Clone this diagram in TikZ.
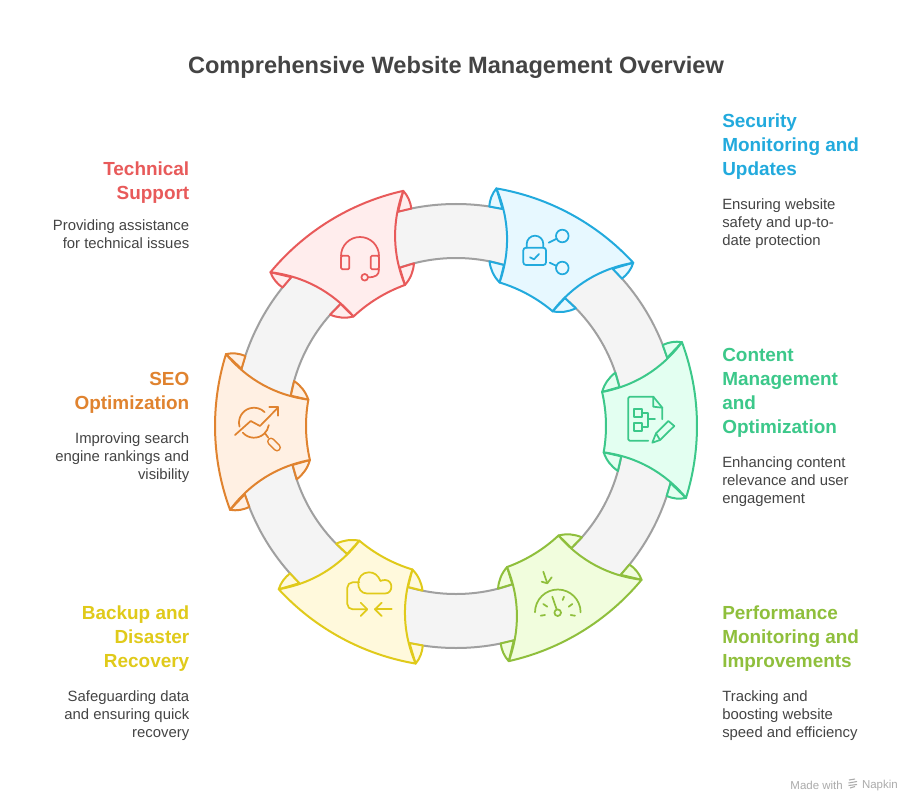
\documentclass[tikz,border=0pt]{standalone}
\usepackage{fontspec}
\setmainfont{Liberation Sans}
\definecolor{cRed}{HTML}{E85A5A}\definecolor{fRed}{HTML}{FFEDED}
\definecolor{cBlue}{HTML}{22AADD}\definecolor{fBlue}{HTML}{E7F8FF}
\definecolor{cGreen}{HTML}{3CC88A}\definecolor{fGreen}{HTML}{E3FFF1}
\definecolor{cOlive}{HTML}{8FBF3C}\definecolor{fOlive}{HTML}{F1FDDD}
\definecolor{cYellow}{HTML}{E0CA1A}\definecolor{fYellow}{HTML}{FFF9DC}
\definecolor{cOrange}{HTML}{E0832F}\definecolor{fOrange}{HTML}{FFF0E3}
\definecolor{ink}{HTML}{444444}
\tikzset{
  ringband/.style={draw=ringgray,fill=ringfill,line width=1.5pt,even odd rule},
  title/.style={text=ink,inner sep=0pt,font=\bfseries\fontsize{17.7}{22}\selectfont},
  headL/.style={inner sep=0pt,anchor=north west,align=left,font=\bfseries\fontsize{14.2}{18}\selectfont},
  headR/.style={inner sep=0pt,anchor=north east,align=right,font=\bfseries\fontsize{14.2}{18}\selectfont},
  bodyL/.style={text=ink,inner sep=0pt,anchor=north west,align=left,font=\fontsize{11.15}{13.5}\selectfont},
  bodyR/.style={text=ink,inner sep=0pt,anchor=north east,align=right,font=\fontsize{11.15}{13.5}\selectfont},
  icon/.style={line width=1.3pt,line cap=round,line join=round},
  seg/.style={line width=1.5pt,line join=round},
  credit/.style={text=creditgray,inner sep=0pt,font=\fontsize{8.6}{10}\selectfont},
}
\definecolor{ringgray}{HTML}{A0A0A0}\definecolor{ringfill}{HTML}{F4F4F4}\definecolor{creditgray}{HTML}{ABABAB}
\newcommand{\ringseg}[3]{%
  \begin{scope}[shift={(456,426)},y=0.75pt,rotate=#1]
    \path[seg,draw=#2,fill=#3] (18.85:241) .. controls (221.4,79.3) and (214.9,78.2) .. (19.9:222) -- (16.4:222) -- cycle;
    \path[seg,draw=#2,fill=#3] (-18.85:241) .. controls (221.4,-79.3) and (214.9,-78.2) .. (-19.9:222) -- (-16.4:222) -- cycle;
    \path[seg,draw=#2,fill=#3] (11.6:150) .. controls (149.4,38.1) and (154,44.4) .. (17:168) -- (11.9:168) -- cycle;
    \path[seg,draw=#2,fill=#3] (-11.6:150) .. controls (149.4,-38.1) and (154,-44.4) .. (-17:168) -- (-11.9:168) -- cycle;
    \path[seg,draw=#2,fill=#3] (18.85:241) arc[start angle=18.85,end angle=-18.85,radius=241]
      .. controls (207.1,-51.6) and (180,-35.7) .. (-11.6:150) arc[start angle=-11.6,end angle=11.6,radius=150]
      .. controls (180,35.7) and (207.1,51.6) .. cycle;
  \end{scope}}
\begin{document}
\begin{tikzpicture}[x=0.75pt,y=-0.75pt]
\useasboundingbox (0,0) rectangle (912,802);
\fill[white] (0,0) rectangle (912,802);
\path[ringband] (456,426) circle (222) (456,426) circle (168);
\ringseg{121.5}{cRed}{fRed}
\ringseg{61.5}{cBlue}{fBlue}
\ringseg{1.5}{cGreen}{fGreen}
\ringseg{-58.5}{cOlive}{fOlive}
\ringseg{-118.5}{cYellow}{fYellow}
\ringseg{181.5}{cOrange}{fOrange}
% headset
\begin{scope}[icon,draw=cRed]
\draw (341,256) arc[start angle=180,end angle=360,radius=19];
\draw[rounded corners=1pt] (341,255.7) rectangle (349.3,269.3);
\draw[rounded corners=1pt] (370.7,255.7) rectangle (379,269.3);
\draw (379,269.3) .. controls (379,275) and (376,277.3) .. (368,277.3);
\draw (364.7,277.3) circle (3.3);
\end{scope}
% lock
\begin{scope}[icon,draw=cBlue]
\draw[rounded corners=2pt] (523.3,247.7) rectangle (546,265);
\draw (526.7,247.7) -- (526.7,244) arc[start angle=180,end angle=360,radius=8.3] -- (543.3,247.7);
\draw (530,257.3) -- (534,259.3) -- (539,254);
\draw (562.3,236) circle (6.3);
\draw (562.3,268) circle (6.3);
\draw (548.7,242.7) -- (556.7,238.7);
\draw (549.7,262.7) -- (556.7,266);
\end{scope}
% document and pencil
\begin{scope}[icon,draw=cGreen]
\draw[rounded corners=1pt] (648.3,440.7) -- (628.3,440.7) -- (628.3,396.7) -- (653.3,396.7);
\draw (653.3,396.7) -- (662.3,407.7) -- (662.3,419.3);
\draw (653.3,396.7) -- (653.3,406.7) -- (662.3,407.7);
\draw (634,409.3) rectangle (641.7,416.7);
\draw (634,423.3) rectangle (641.7,430.7);
\draw (641.7,413) -- (647.7,413) -- (647.7,426.7) -- (641.7,426.7);
\draw (647.7,419.3) -- (655,419.3);
\draw (652.3,442.7) -- (656,433.3) -- (668.3,421) -- (674.3,426) -- (660,440) -- cycle;
\draw (656,433.3) -- (660,440);
\end{scope}
% gauge
\begin{scope}[icon,draw=cOlive]
\draw (543.3,571.7) -- (547.3,583.3);
\draw (541.7,581.7) -- (547.3,583.3) -- (551.7,577.3);
\draw (535,612.3) arc[start angle=180,end angle=360,radius=22.8];
\draw (552.3,596.7) -- (556.7,609.5);
\draw (557.7,612.7) circle (3.3);
\draw (543.3,604) -- (547.3,606.7);
\draw (540.7,615.7) -- (545,615);
\draw (564,596.7) -- (562.7,600);
\draw (572.3,604) -- (568.7,606.7);
\draw (570.7,615) -- (575,615.7);
\end{scope}
% cloud
\begin{scope}[icon,draw=cYellow]
\draw (367,593.5) -- (385,593.5) .. controls (393.5,593.5) and (393.5,580) .. (385,580)
  .. controls (383,580) and (381.5,580.5) .. (380.5,581)
  .. controls (378,575) and (374,572.3) .. (369,572.3)
  .. controls (355,572.3) and (355,593.5) .. (367,593.5);
\draw[rounded corners=4pt] (359.3,582.3) -- (347.3,582.3) -- (347.3,609.3) -- (366.7,609.3);
\draw (360.7,602.7) -- (367.3,609.3) -- (360.7,616);
\draw (391.7,609.3) -- (375,609.3);
\draw (381.7,602.7) -- (375,609.3) -- (381.7,616);
\end{scope}
% magnifier and trend
\begin{scope}[icon,draw=cOrange]
\draw ([shift={(-195:15)}]254,422.7) arc[start angle=-195,end angle=-45,radius=15];
\draw ([shift={(-222:15)}]254,422.7) arc[start angle=-222,end angle=-351,radius=15];
\draw (235,435) -- (250.7,421) -- (260,426) -- (278.3,407.3);
\draw (269.3,407.3) -- (278.3,407.3) -- (278.3,415.7);
\draw (265,433.3) -- (268.3,437.7);
\draw[line width=6pt] (271,441.5) -- (277,447.5);
\draw[fOrange,line width=3.6pt] (271,441.5) -- (277,447.5);
\end{scope}
% texts
\node[title] (ttl) at (456,67) {Comprehensive Website Management Overview};
\node[headR,text=cRed] (h1) at (189.5,161.7) {Technical\\Support};
\node[bodyR] (b1) at (189.5,219) {Providing assistance\\for technical issues};
\node[headL,text=cBlue] (h2) at (722,113.7) {Security\\Monitoring and\\Updates};
\node[bodyL] (b2) at (722,198) {Ensuring website\\safety and up-to-\\date protection};
\node[headL,text=cGreen] (h3) at (722,347.7) {Content\\Management\\and\\Optimization};
\node[bodyL] (b3) at (722,456) {Enhancing content\\relevance and user\\engagement};
\node[headL,text=cOlive] (h4) at (722,605.7) {Performance\\Monitoring and\\Improvements};
\node[bodyL] (b4) at (722,690) {Tracking and\\boosting website\\speed and efficiency};
\node[headR,text=cYellow] (h5) at (189.5,605.7) {Backup and\\Disaster\\Recovery};
\node[bodyR] (b5) at (189.5,690) {Safeguarding data\\and ensuring quick\\recovery};
\node[headR,text=cOrange] (h6) at (189.5,371.7) {SEO\\Optimization};
\node[bodyR] (b6) at (189.5,432) {Improving search\\engine rankings and\\visibility};
\node[credit,anchor=east] (c1) at (843,785.5) {Made with};
\node[credit,anchor=east] (c2) at (898,785.5) {Napkin};
\draw[creditgray,line width=0.8pt] (849,780) -- (855,779) (848.5,783) -- (857,781.5) (848.5,785.5) -- (857,784.5) (850,788) -- (855,786.5);
\end{tikzpicture}
\end{document}
